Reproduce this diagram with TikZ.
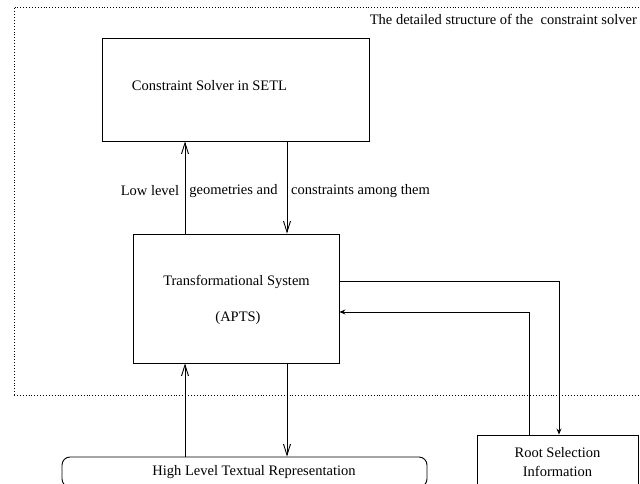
\documentclass[tikz,border=0pt]{standalone}
\usepackage{fontspec}
\setmainfont{Liberation Serif}
\usetikzlibrary{arrows.meta}
\begin{document}
\begin{tikzpicture}[x=1pt,y=-1pt,
  every node/.style={font=\fontsize{14.5}{19}\selectfont, inner sep=0pt},
  box/.style={draw, line width=0.9pt, minimum width=#1},
  arr/.style={line width=0.9pt, -{Straight Barb[length=11pt,width=7pt,line width=0.9pt]}},
  sarr/.style={line width=0.9pt, -{Stealth[length=6pt,width=5pt]}},
  frame/.style={line width=0.9pt, dotted}]
\useasboundingbox (0,0) rectangle (640,484);
% dotted frame
\draw[frame] (14,395) -- (14,7) -- (660,7);
\draw[frame] (14,395) -- (660,395);
\node[anchor=east] (title) at (637,19) {The detailed structure of the~ constraint solver};
% boxes
\node[box=267pt, minimum height=103pt] (top) at (235.5,89.5) {};
\node (toptxt) at (209.5,86) {Constraint Solver in SETL};
\node[box=206pt, minimum height=129pt] (mid) at (236,298.5) {};
\node (midtxt1) at (236.5,282) {Transformational System};
\node (midtxt2) at (238,318) {(APTS)};
\node[box=365pt, minimum height=30pt, rounded corners=8pt] (bot) at (244.5,472) {};
\node (bottxt) at (254,472) {High Level Textual Representation};
\node[box=161pt, minimum height=55pt, align=center] (root) at (557.5,462.5) {Root Selection\\Information};
% labels
\node (l1) at (150,191) {Low level};
\node (l2) at (233.5,191) {geometries and};
\node (l3) at (360.5,191) {constraints among them};
% helper coordinates
\coordinate (xl) at (185,0);
\coordinate (xr) at (287,0);
\coordinate (xa) at (559,0);
\coordinate (xb) at (529,0);
\coordinate (ya) at (0,281);
\coordinate (yb) at (0,312);
% connectors
\draw[arr] (mid.north -| xl) -- (top.south -| xl);
\draw[arr] (top.south -| xr) -- (mid.north -| xr);
\draw[arr] (bot.north -| xl) -- (mid.south -| xl);
\draw[arr] (mid.south -| xr) -- (bot.north -| xr);
\draw[sarr] (mid.east |- ya) -| (root.north -| xa);
\draw[sarr] (root.north -| xb) |- (mid.east |- yb);
\end{tikzpicture}
\end{document}
